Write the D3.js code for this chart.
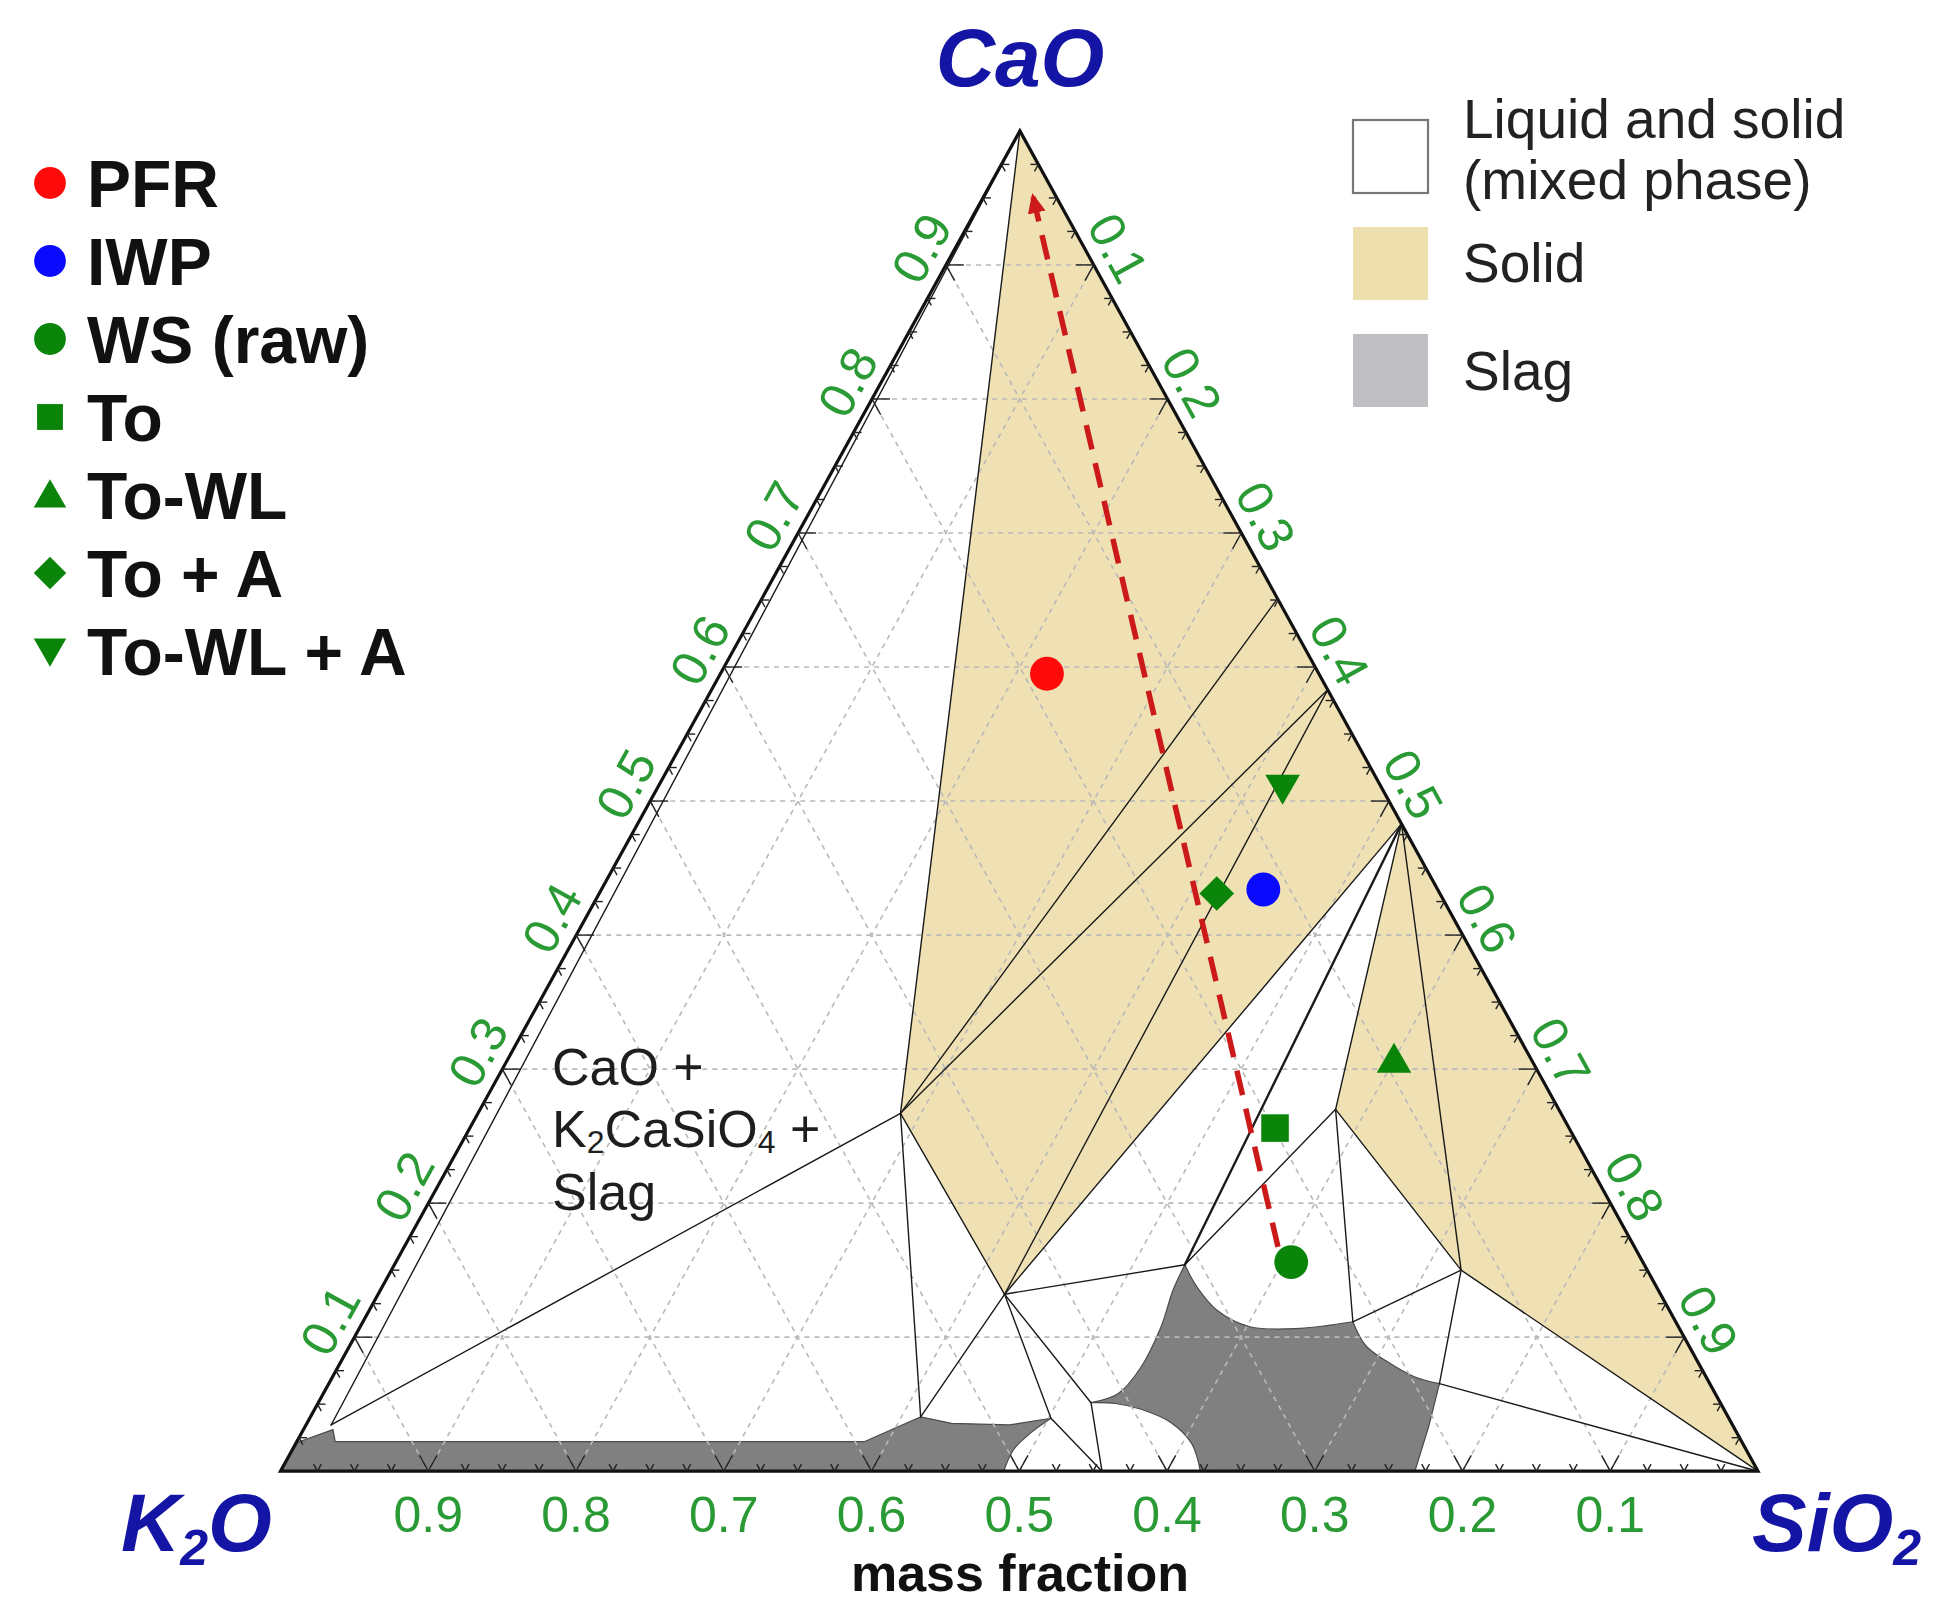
<!DOCTYPE html>
<html><head><meta charset="utf-8">
<script src="https://cdn.jsdelivr.net/npm/d3@7"></script>
<style>html,body{margin:0;padding:0;background:#fff;} svg{display:block;}</style>
</head><body>
<svg id="chart" width="1955" height="1620"></svg>
<script>
// ================= DATA =================
// Compositions are mass fractions [CaO, SiO2]; K2O = 1 - CaO - SiO2
const cornerLabels = ["CaO", "K2O", "SiO2"];
const gridValues = [0.1, 0.2, 0.3, 0.4, 0.5, 0.6, 0.7, 0.8, 0.9];
const tickLabels = ["0.1", "0.2", "0.3", "0.4", "0.5", "0.6", "0.7", "0.8", "0.9"];
const minorStep = 0.025;

// phase nodes (compounds and invariant points)
const nodes = {
  C: [1, 0], S: [0, 1], K: [0, 0],
  C2S: [0.651, 0.349], C3S2: [0.583, 0.417], CS: [0.483, 0.517],
  KCS: [0.267, 0.286], K4CS3: [0.132, 0.424], KC3S6: [0.270, 0.579], KC2S9: [0.150, 0.724],
  KL: [0.0345, 0.017], SC: [0.154, 0.535], SR: [0.1115, 0.670], SR2: [0.0653, 0.7517],
  B1: [0.0405, 0.413], B2: [0.0395, 0.5017], B3: [0, 0.556], TIP: [0.0511, 0.523]
};

// Solid (tan) regions
const solidRegions = [
  ["C", "C2S", "C3S2", "CS", "K4CS3", "KCS"],
  ["CS", "S", "KC2S9", "KC3S6"]
];

// Slag (grey) regions, as boundary pieces (curved or straight)
const slagMain = [
  {curve: true,  pts: ["SC", [0.135, 0.5365], [0.108, 0.542], [0.077, 0.5435], [0.058, 0.538], "TIP"]},
  {curve: true,  pts: ["TIP", [0.0505, 0.540], [0.046, 0.560], [0.036, 0.585], [0.021, 0.606], [0.008, 0.617], [0, 0.6225]]},
  {curve: false, pts: [[0, 0.6225], [0, 0.7678], [0.0336, 0.7604], "SR2"]},
  {curve: true,  pts: ["SR2", [0.0703, 0.7326], [0.0803, 0.7109], [0.0936, 0.6877], "SR"]},
  {curve: true,  pts: ["SR", [0.1066, 0.6366], [0.1078, 0.6022], [0.1203, 0.5734], [0.1377, 0.5512], "SC"]}
];
const slagLeft = [
  {curve: false, pts: ["K", [0.021, 0], [0.031, 0.020], [0.022, 0.026], [0.022, 0.384], "B1", [0.0357, 0.4363], [0.0345, 0.4759], "B2"]},
  {curve: true,  pts: ["B2", [0.0282, 0.4932], [0.0158, 0.4881], [0, 0.4895]]},
  {curve: false, pts: [[0, 0.4895], "K"]}
];

// tie lines / phase boundaries
const tieLines = [
  ["C", "KL"], ["KL", "KCS"], ["C", "KCS"], ["KCS", "C2S"], ["KCS", "C3S2"], ["KCS", "K4CS3"],
  ["K4CS3", "C3S2"], ["K4CS3", "CS"], ["CS", "KC3S6"], ["CS", "KC2S9"],
  ["KC3S6", "KC2S9"], ["KC2S9", "S"], ["KC3S6", "SR"], ["SR", "KC2S9"], ["KC2S9", "SR2"], ["SR2", "S"],
  ["SC", "KC3S6"], ["SC", "K4CS3"], ["KCS", "B1"], ["K4CS3", "B1"], ["K4CS3", "B2"], ["K4CS3", "TIP"],
  ["B2", "B3"], ["TIP", "B3"]
];
const thickLines = [["CS", "SC"]];

// samples
const sampleNames  = ["PFR", "IWP", "WS (raw)", "To", "To-WL", "To + A", "To-WL + A"];
const sampleCaO    = [0.595, 0.434, 0.156, 0.256, 0.307, 0.431, 0.510];
const sampleSiO2   = [0.221, 0.448, 0.606, 0.545, 0.600, 0.418, 0.423];
const sampleShapes = ["circle", "circle", "circle", "square", "triangle", "diamond", "triangleDown"];
const sampleColors = ["#ff0a0a", "#0a0aff", "#0a850a", "#0a850a", "#0a850a", "#0a850a", "#0a850a"];

// dashed trend arrow (start -> end)
const arrowCaO  = [0.1673, 0.9507];
const arrowSiO2 = [0.5914, 0.0336];

// phase legend
const phaseLegend = [
  {lines: ["Liquid and solid", "(mixed phase)"], fill: "#ffffff", stroke: "#777"},
  {lines: ["Solid"], fill: "#eedfae", stroke: "none"},
  {lines: ["Slag"], fill: "#bfbfc3", stroke: "none"}
];

// ================= SCALES =================
const svg = d3.select("#chart");
const xScale = d3.scaleLinear().domain([0, 1]).range([280.5, 1758]);
const yScale = d3.scaleLinear().domain([0, 1]).range([1471.2, 130.9]);
const apexT = (1019.9 - 280.5) / (1758 - 280.5);
const P = (c, s) => [xScale(s + c * apexT), yScale(c)];
const resolve = p => (typeof p === "string" ? nodes[p] : p);
const RP = p => { const q = resolve(p); return P(q[0], q[1]); };

const TAN = "#efe1b3", SLAG = "#808080", GRID = "#b9b9b9", GREEN = "#2a9a35", BLUE = "#1515a5";
const FONT = "'Liberation Sans', Arial, Helvetica, sans-serif";

function unit(a, b) { const dx = b[0] - a[0], dy = b[1] - a[1], l = Math.hypot(dx, dy); return [dx / l, dy / l]; }
const pK = P(0, 0), pS = P(0, 1), pC = P(1, 0);
const dirKC = unit(pK, pC), dirSC = unit(pS, pC);

// ================= FILLS =================
const gFill = svg.append("g");
solidRegions.forEach(r => {
  gFill.append("path").attr("d", d3.line()(r.map(RP)) + "Z").attr("fill", TAN).attr("stroke", "none");
});
function piecesPath(pieces) {
  let d = "";
  pieces.forEach((pc, i) => {
    const gen = d3.line().curve(pc.curve ? d3.curveCatmullRom.alpha(0.5) : d3.curveLinear);
    let s = gen(pc.pts.map(RP));
    if (i > 0) s = "L" + s.slice(1);
    d += s;
  });
  return d + "Z";
}
[slagMain, slagLeft].forEach(pcs => {
  gFill.append("path").attr("d", piecesPath(pcs)).attr("fill", SLAG).attr("stroke", "#4a4a4a").attr("stroke-width", 1.2);
});

// ================= GRID =================
const gGrid = svg.append("g").attr("stroke", GRID).attr("stroke-width", 1.6).attr("stroke-dasharray", "5,5").attr("fill", "none");
gridValues.forEach(v => {
  [[P(v, 0), P(v, 1 - v)], [P(0, v), P(1 - v, v)], [P(0, 1 - v), P(1 - v, 0)]].forEach(seg => {
    gGrid.append("path").attr("d", d3.line()(seg));
  });
});

// ================= PHASE LINES =================
const gLines = svg.append("g").attr("stroke", "#1a1a1a").attr("fill", "none").attr("stroke-linecap", "round");
tieLines.forEach(l => gLines.append("path").attr("d", d3.line()(l.map(RP))).attr("stroke-width", 1.4));
thickLines.forEach(l => gLines.append("path").attr("d", d3.line()(l.map(RP))).attr("stroke-width", 2.4));

// ================= TRIANGLE + TICKS =================
svg.append("path").attr("d", d3.line()([pK, pS, pC]) + "Z").attr("fill", "none").attr("stroke", "#111").attr("stroke-width", 3.2).attr("stroke-linejoin", "miter");

const gTicks = svg.append("g").attr("stroke", "#222").attr("stroke-width", 1.4);
const tickVals = d3.range(minorStep, 1 - 1e-9, minorStep);
const edges = [
  {pos: t => P(0, t), dirs: [dirKC, dirSC]},
  {pos: t => P(t, 0), dirs: [[1, 0], [-dirSC[0], -dirSC[1]]]},
  {pos: t => P(1 - t, t), dirs: [[-1, 0], [-dirKC[0], -dirKC[1]]]}
];
edges.forEach(e => {
  tickVals.forEach(t => {
    const major = Math.abs(t * 10 - Math.round(t * 10)) < 1e-6;
    const L = major ? 18 : 8;
    const p = e.pos(t);
    e.dirs.forEach(d => {
      gTicks.append("line").attr("x1", p[0]).attr("y1", p[1]).attr("x2", p[0] + d[0] * L).attr("y2", p[1] + d[1] * L);
    });
  });
});

// tick labels
const gLab = svg.append("g").attr("fill", GREEN).attr("font-family", FONT).attr("font-size", 50);
const leftAng = Math.atan2(pC[1] - pK[1], pC[0] - pK[0]) * 180 / Math.PI;
const rightAng = Math.atan2(pS[1] - pC[1], pS[0] - pC[0]) * 180 / Math.PI;
const nLeft = [dirKC[1], -dirKC[0]];
const dirCS = unit(pC, pS);
const nRight = [dirCS[1], -dirCS[0]];
gridValues.forEach((v, i) => {
  // bottom: K2O fraction
  const pb = P(0, 1 - v);
  gLab.append("text").attr("x", pb[0]).attr("y", pb[1] + 61).attr("text-anchor", "middle").text(tickLabels[i]);
  // left: CaO fraction
  const pl = P(v, 0);
  const xl = pl[0] + nLeft[0] * 29 + dirKC[0] * 3, yl = pl[1] + nLeft[1] * 29 + dirKC[1] * 3;
  gLab.append("text").attr("transform", `translate(${xl},${yl}) rotate(${leftAng})`)
    .attr("text-anchor", "middle").attr("dominant-baseline", "central").text(tickLabels[i]);
  // right: SiO2 fraction
  const pr = P(1 - v, v);
  const xr = pr[0] + nRight[0] * 29 - dirCS[0] * 3, yr = pr[1] + nRight[1] * 29 - dirCS[1] * 3;
  gLab.append("text").attr("transform", `translate(${xr},${yr}) rotate(${rightAng})`)
    .attr("text-anchor", "middle").attr("dominant-baseline", "central").text(tickLabels[i]);
});

// ================= ARROW =================
const defs = svg.append("defs");
defs.append("marker").attr("id", "arr").attr("viewBox", "0 0 10 10").attr("refX", 8).attr("refY", 5)
  .attr("markerWidth", 20).attr("markerHeight", 20).attr("markerUnits", "userSpaceOnUse").attr("orient", "auto")
  .append("path").attr("d", "M0,0.5 L10,5 L0,9.5 Z").attr("fill", "#cc1a1a");
svg.append("path").attr("d", d3.line()(arrowCaO.map((c, i) => P(c, arrowSiO2[i]))))
  .attr("stroke", "#cc1a1a").attr("stroke-width", 5.5).attr("stroke-dasharray", "25,14").attr("fill", "none")
  .attr("marker-end", "url(#arr)");

// ================= SYMBOLS =================
function symbolPath(shape, scale) {
  const k = scale || 1;
  switch (shape) {
    case "circle": return {d: d3.symbol(d3.symbolCircle, 900 * k)(), rot: 0};
    case "square": return {d: d3.symbol(d3.symbolSquare, 760 * k)(), rot: 0};
    case "triangle": return {d: d3.symbol(d3.symbolTriangle, 520 * k)(), rot: 0};
    case "triangleDown": return {d: d3.symbol(d3.symbolTriangle, 520 * k)(), rot: 180};
    case "diamond": return {d: d3.symbol(d3.symbolSquare, 600 * k)(), rot: 45};
  }
}
const gPts = svg.append("g");
sampleNames.forEach((n, i) => {
  const p = P(sampleCaO[i], sampleSiO2[i]);
  const s = symbolPath(sampleShapes[i], 1);
  const dy = sampleShapes[i] === "triangle" ? 3 : (sampleShapes[i] === "triangleDown" ? -3 : 0);
  gPts.append("path").attr("d", s.d).attr("fill", sampleColors[i])
    .attr("transform", `translate(${p[0]},${p[1] + dy}) rotate(${s.rot})`);
});

// ================= TEXT IN DIAGRAM =================
const gT = svg.append("g").attr("font-family", FONT).attr("fill", "#1e1e1e").attr("font-size", 52);
gT.append("text").attr("x", 552).attr("y", 1085).text("CaO +");
const t2 = gT.append("text").attr("x", 552).attr("y", 1147);
t2.append("tspan").text("K");
t2.append("tspan").attr("font-size", 32).attr("dy", 6).text("2");
t2.append("tspan").attr("dy", -6).text("CaSiO");
t2.append("tspan").attr("font-size", 32).attr("dy", 6).text("4");
t2.append("tspan").attr("dy", -6).text(" +");
gT.append("text").attr("x", 552).attr("y", 1210).text("Slag");

// corner labels
const gC = svg.append("g").attr("font-family", FONT).attr("font-weight", "bold").attr("font-style", "italic")
  .attr("fill", BLUE).attr("font-size", 82);
gC.append("text").attr("x", 1020).attr("y", 86).attr("text-anchor", "middle").text(cornerLabels[0]);
const tk = gC.append("text").attr("x", 121).attr("y", 1551);
tk.append("tspan").text("K");
tk.append("tspan").attr("font-size", 50).attr("dy", 14).text("2");
tk.append("tspan").attr("dy", -14).text("O");
const ts = gC.append("text").attr("x", 1752).attr("y", 1551);
ts.append("tspan").text("SiO");
ts.append("tspan").attr("font-size", 50).attr("dy", 14).text("2");

svg.append("text").attr("x", 1020).attr("y", 1591).attr("text-anchor", "middle")
  .attr("font-family", FONT).attr("font-weight", "bold").attr("font-size", 52).attr("fill", "#111").text("mass fraction");

// ================= SAMPLE LEGEND =================
const legY = d3.scaleLinear().domain([0, 6]).range([183, 651]);
const gL = svg.append("g");
sampleNames.forEach((n, i) => {
  const y = legY(i);
  const s = symbolPath(sampleShapes[i], 0.88);
  const dy = sampleShapes[i] === "triangle" ? 3 : (sampleShapes[i] === "triangleDown" ? -3 : 0);
  gL.append("path").attr("d", s.d).attr("fill", sampleColors[i])
    .attr("transform", `translate(50,${y + dy}) rotate(${s.rot})`);
  gL.append("text").attr("x", 87).attr("y", y + 24).attr("font-family", FONT).attr("font-weight", "bold")
    .attr("font-size", 66).attr("fill", "#111").text(n);
});

// ================= PHASE LEGEND =================
const boxY = [120, 227, 334];
const gP = svg.append("g").attr("font-family", FONT).attr("font-size", 55).attr("fill", "#222");
phaseLegend.forEach((e, i) => {
  gP.append("rect").attr("x", 1353).attr("y", boxY[i]).attr("width", 75).attr("height", 73)
    .attr("fill", e.fill).attr("stroke", e.stroke).attr("stroke-width", 2.2);
});
gP.append("text").attr("x", 1463).attr("y", 138).text(phaseLegend[0].lines[0]);
gP.append("text").attr("x", 1463).attr("y", 199).text(phaseLegend[0].lines[1]);
gP.append("text").attr("x", 1463).attr("y", 282).text(phaseLegend[1].lines[0]);
gP.append("text").attr("x", 1463).attr("y", 390).text(phaseLegend[2].lines[0]);
</script>
</body></html>
